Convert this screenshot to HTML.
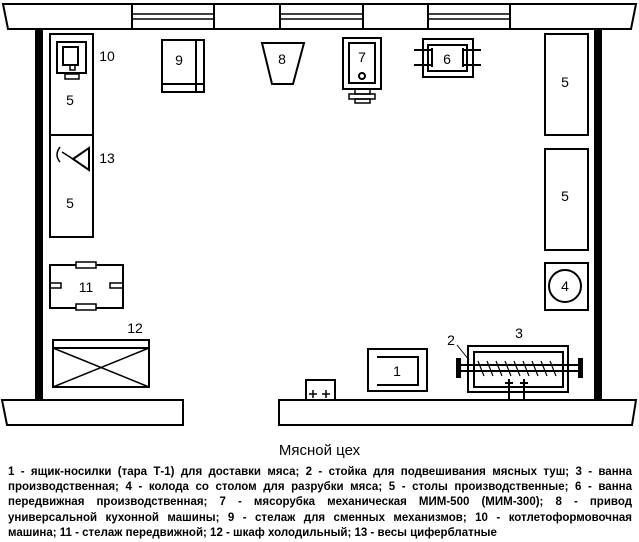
<!DOCTYPE html>
<html><head><meta charset="utf-8"><style>
html,body{margin:0;padding:0;background:#fff;width:639px;height:542px;overflow:hidden}
svg{position:absolute;left:0;top:0}
.t{font-family:"Liberation Sans",sans-serif;font-size:14px;fill:#000}
#leg{position:absolute;left:8px;top:465px;width:624px;font-family:"Liberation Sans",sans-serif;font-weight:bold;font-size:11.5px;line-height:15.2px;color:#000}
#leg div{text-align:justify;text-align-last:justify;white-space:nowrap}
#leg div.l{text-align-last:left}
#title{position:absolute;left:0;width:639px;top:442px;text-align:center;font-family:"Liberation Sans",sans-serif;font-size:15px}
</style></head><body>
<svg width="639" height="542" viewBox="0 0 639 542" fill="none" stroke="#000" stroke-width="2">
<polygon points="3,4 636,4 631,29 8,29"/>
<line x1="132" y1="4" x2="132" y2="29"/><line x1="214" y1="4" x2="214" y2="29"/>
<line x1="280" y1="4" x2="280" y2="29"/><line x1="363" y1="4" x2="363" y2="29"/>
<line x1="428" y1="4" x2="428" y2="29"/><line x1="510" y1="4" x2="510" y2="29"/>
<g stroke-width="1.5">
<line x1="132" y1="14" x2="214" y2="14"/><line x1="132" y1="19" x2="214" y2="19"/>
<line x1="280" y1="14" x2="363" y2="14"/><line x1="280" y1="19" x2="363" y2="19"/>
<line x1="428" y1="14" x2="510" y2="14"/><line x1="428" y1="19" x2="510" y2="19"/>
</g>
<rect x="35" y="29" width="8" height="371" fill="#000" stroke="none"/>
<rect x="594" y="29" width="8" height="371" fill="#000" stroke="none"/>
<polygon points="2,400 183,400 183,425 7,425"/>
<polygon points="279,400 636,400 632,425 279,425"/>
<rect x="50" y="34" width="43" height="101"/><rect x="50" y="135" width="43" height="102"/>
<rect x="57" y="42" width="29" height="31"/><rect x="63" y="47" width="15" height="18"/>
<rect x="70" y="65" width="5" height="5" stroke-width="1.5"/><rect x="65" y="74" width="14" height="5" stroke-width="1.5"/>
<path d="M60,147 Q54,155 60,162" stroke-width="1.5"/>
<line x1="62" y1="152" x2="73" y2="159" stroke-width="1.5"/>
<polygon points="73,159 89,148 89,170"/>
<rect x="162" y="40" width="42" height="52"/><line x1="196" y1="40" x2="196" y2="92"/><line x1="162" y1="84" x2="204" y2="84"/>
<polygon points="262,43 304,43 293,84 272,84"/>
<rect x="343" y="38" width="38" height="51"/><rect x="349" y="43" width="26" height="40"/>
<circle cx="362" cy="76" r="3"/>
<rect x="355" y="89" width="15" height="5" stroke-width="1.5"/><rect x="349" y="94" width="26" height="5" stroke-width="1.5"/><rect x="355" y="99" width="15" height="4" stroke-width="1.5"/>
<rect x="423" y="39" width="50" height="38"/><rect x="428" y="45" width="39" height="26"/>
<line x1="414" y1="50" x2="432" y2="50"/><line x1="414" y1="65" x2="432" y2="65"/>
<line x1="463" y1="50" x2="481" y2="50"/><line x1="463" y1="65" x2="481" y2="65"/>
<line x1="432" y1="48" x2="432" y2="67"/><line x1="463" y1="48" x2="463" y2="67"/>
<rect x="545" y="34" width="43" height="101"/><rect x="545" y="149" width="43" height="101"/>
<rect x="545" y="263" width="43" height="47"/><circle cx="565" cy="286" r="16"/>
<rect x="50" y="265" width="73" height="43"/>
<rect x="76" y="262" width="20" height="6" fill="#fff" stroke-width="1.5"/><rect x="76" y="304" width="20" height="6" fill="#fff" stroke-width="1.5"/>
<rect x="50" y="283" width="11" height="5" stroke-width="1.5"/><rect x="110" y="283" width="13" height="5" stroke-width="1.5"/>
<rect x="53" y="340" width="96" height="47"/><line x1="53" y1="348" x2="149" y2="348"/>
<line x1="53" y1="348" x2="149" y2="387" stroke-width="1.5"/><line x1="53" y1="387" x2="149" y2="348" stroke-width="1.5"/>
<rect x="368" y="349" width="59" height="42"/>
<polyline points="377,357 418,357 418,385 377,385"/>
<rect x="306" y="380" width="29" height="20"/>
<path d="M309,394h8M313,390v8M322,394h8M326,390v8" stroke-width="1.5"/>
<rect x="468" y="346" width="100" height="46"/><rect x="474" y="352" width="89" height="35"/>
<line x1="458" y1="365" x2="580" y2="365"/><line x1="458" y1="371" x2="580" y2="371"/>
<rect x="457" y="359" width="3" height="18" fill="#000"/><rect x="579" y="359" width="3" height="18" fill="#000"/>
<g stroke-width="1.2">
<path d="M478,361l6,15M487,361l6,15M496,361l6,15M505,361l6,15M514,361l6,15M523,361l6,15M532,361l6,15M541,361l6,15M550,361l6,15"/>
</g>
<line x1="509" y1="379" x2="509" y2="400"/><line x1="524" y1="379" x2="524" y2="400"/>
<line x1="505" y1="383" x2="513" y2="383"/><line x1="520" y1="383" x2="528" y2="383"/>
<line x1="457" y1="345" x2="469" y2="360" stroke-width="1"/>
<g stroke="none" fill="#000" class="t" text-anchor="middle">
<text x="107" y="61">10</text><text x="70" y="105">5</text>
<text x="107" y="163">13</text><text x="70" y="208">5</text>
<text x="179" y="65">9</text><text x="282" y="64">8</text>
<text x="362" y="62">7</text><text x="447" y="64">6</text>
<text x="565" y="87">5</text><text x="565" y="201">5</text><text x="565" y="291">4</text>
<text x="86" y="292">11</text><text x="135" y="333">12</text>
<text x="397" y="376">1</text><text x="519" y="338">3</text><text x="451" y="345">2</text>
</g>
</svg>
<div id="title">Мясной цех</div>
<div id="leg">
<div>1 - ящик-носилки (тара Т-1) для доставки мяса; 2 - стойка для подвешивания мясных туш; 3 - ванна</div>
<div>производственная; 4 - колода со столом для разрубки мяса; 5 - столы производственные; 6 - ванна</div>
<div>передвижная производственная; 7 - мясорубка механическая МИМ-500 (МИМ-300); 8 - привод</div>
<div>универсальной кухонной машины; 9 - стелаж для сменных механизмов; 10 - котлетоформовочная</div>
<div class="l">машина; 11 - стелаж передвижной; 12 - шкаф холодильный; 13 - весы циферблатные</div>
</div>
</body></html>
